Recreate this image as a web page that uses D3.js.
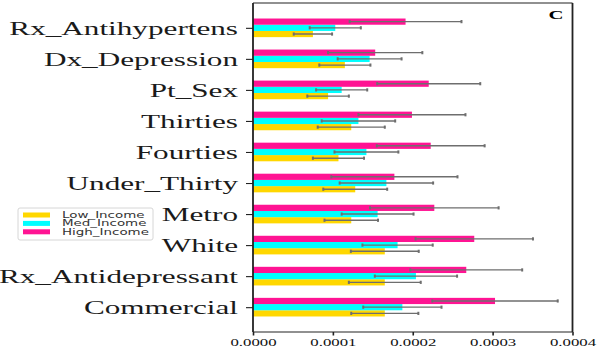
<!DOCTYPE html>
<html lang="en">
<head>
    <meta charset="UTF-8">
    <title>Income groups</title>
    <style>
        body { margin: 0; background: #fff; }
        svg { display: block; }
    </style>
</head>
<body>
<svg></svg>
<script src="https://d3js.org/d3.v7.min.js"></script>
<script>
    // bottom to top, as matplotlib draws them
    var categories = ["Commercial", "Rx_Antidepressant", "White", "Metro", "Under_Thirty",
        "Fourties", "Thirties", "Pt_Sex", "Dx_Depression", "Rx_Antihypertens"];
    var series = ["Low_Income", "Med_Income", "High_Income"];
    var colors = ["#ffd700", "#00ffff", "#ff1493"];

    // values in units of 1e-4
    var lowVals  = [1.65, 1.65, 1.65, 1.23, 1.28, 1.07, 1.23, 0.94, 1.15, 0.75];
    var lowErr   = [0.42, 0.45, 0.425, 0.335, 0.40, 0.32, 0.42, 0.26, 0.32, 0.24];
    var medVals  = [1.87, 2.04, 1.81, 1.56, 1.67, 1.42, 1.32, 1.11, 1.46, 1.03];
    var medErr   = [0.49, 0.515, 0.44, 0.45, 0.585, 0.40, 0.46, 0.32, 0.40, 0.32];
    var highVals = [3.03, 2.67, 2.77, 2.27, 1.77, 2.225, 1.99, 2.20, 1.53, 1.91];
    var highErr  = [0.785, 0.70, 0.735, 0.805, 0.79, 0.675, 0.67, 0.645, 0.59, 0.70];
    var xTicks = [0, 0.0001, 0.0002, 0.0003, 0.0004];

    var width = 598, height = 349;
    var plot = {left: 253, right: 572.5, top: 3, bottom: 332};
    var stretch = 1.6;   // the original picture is widened sideways
    var barH = 0.2;

    var svg = d3.select("svg").attr("width", width).attr("height", height);

    var xScale = d3.scaleLinear().domain([0, 0.0004]).range([plot.left, plot.right]);
    var yScale = d3.scaleLinear().domain([-0.8, 9.8]).range([plot.bottom, plot.top]);
    var unit = Math.abs(yScale(barH) - yScale(0));

    var rows = [];
    var vals = [lowVals, medVals, highVals], errs = [lowErr, medErr, highErr];
    categories.forEach(function (c, i) {
        series.forEach(function (s, j) {
            rows.push({cat: i, s: j, v: vals[j][i] * 1e-4, e: errs[j][i] * 1e-4, off: (j - 1) * barH});
        });
    });

    // bars
    svg.append("g").selectAll("rect")
        .data(rows)
        .enter().append("rect")
        .attr("x", xScale(0))
        .attr("y", function (d) { return yScale(d.cat + d.off) - unit / 2; })
        .attr("width", function (d) { return xScale(d.v) - xScale(0); })
        .attr("height", unit)
        .style("fill", function (d) { return colors[d.s]; });

    // error bars
    var eg = svg.append("g").attr("stroke", "#6e6e6e").attr("stroke-width", 1.4);
    rows.forEach(function (d) {
        var y = yScale(d.cat + d.off);
        var x0 = xScale(d.v - d.e), x1 = xScale(d.v + d.e);
        eg.append("line").attr("x1", x0).attr("x2", x1).attr("y1", y).attr("y2", y);
        [x0, x1].forEach(function (x) {
            eg.append("line").attr("x1", x).attr("x2", x).attr("y1", y - 1.6).attr("y2", y + 1.6)
                .attr("stroke-width", 2);
        });
    });

    // frame
    var frame = svg.append("g").attr("stroke", "#222").attr("fill", "none");
    frame.append("line").attr("x1", plot.left).attr("x2", plot.right).attr("y1", plot.top).attr("y2", plot.top).attr("stroke-width", 1.1);
    frame.append("line").attr("x1", plot.left).attr("x2", plot.right).attr("y1", plot.bottom).attr("y2", plot.bottom).attr("stroke-width", 1.1);
    frame.append("line").attr("x1", plot.left).attr("x2", plot.left).attr("y1", plot.top).attr("y2", plot.bottom).attr("stroke-width", 1.8);
    frame.append("line").attr("x1", plot.right).attr("x2", plot.right).attr("y1", plot.top).attr("y2", plot.bottom).attr("stroke-width", 1.8);

    // x axis
    var xAxis = d3.axisBottom(xScale).tickValues(xTicks).tickSize(3.5).tickSizeOuter(0)
        .tickFormat(d3.format(".4f"));
    var gx = svg.append("g").attr("transform", "translate(0," + plot.bottom + ")").call(xAxis);
    gx.select(".domain").remove();
    gx.selectAll(".tick line").attr("stroke", "#222").attr("stroke-width", 1.6);
    gx.selectAll(".tick text")
        .attr("y", 0).attr("dy", 0)
        .attr("transform", "translate(0,14) scale(" + stretch + ",1)")
        .style("font-family", "'Liberation Serif', 'Times New Roman', serif")
        .style("font-size", "10.5px")
        .style("fill", "#111");

    // y axis
    var yAxis = d3.axisLeft(yScale).tickValues(d3.range(categories.length)).tickSize(7).tickSizeOuter(0)
        .tickFormat(function (i) { return categories[i]; });
    var gy = svg.append("g").attr("transform", "translate(" + plot.left + ",0)").call(yAxis);
    gy.select(".domain").remove();
    gy.selectAll(".tick line").attr("stroke", "#222").attr("stroke-width", 1.1);
    gy.selectAll(".tick text")
        .attr("x", 0).attr("dy", 0)
        .attr("transform", "translate(-15,6.5) scale(" + stretch + ",1)")
        .style("font-family", "'Liberation Serif', 'Times New Roman', serif")
        .style("font-size", "19.5px")
        .style("fill", "#1a1a1a");

    // panel letter
    svg.append("text")
        .attr("transform", "translate(556,18.5) scale(" + stretch + ",1)")
        .style("text-anchor", "middle")
        .style("font-family", "'Liberation Serif', serif")
        .style("font-weight", "bold")
        .style("font-size", "13px")
        .text("C");

    // legend
    var lg = svg.append("g");
    lg.append("rect").attr("x", 18).attr("y", 208).attr("width", 135).attr("height", 32)
        .attr("rx", 2).style("fill", "#fff").style("stroke", "#d6d6d6").style("stroke-width", 1);
    series.forEach(function (s, j) {
        var y = 215 + j * 8.4;
        lg.append("rect").attr("x", 23).attr("y", y - 2.5).attr("width", 27).attr("height", 5)
            .style("fill", colors[j]);
        lg.append("text")
            .attr("transform", "translate(62," + (y + 3) + ") scale(" + stretch + ",1)")
            .style("font-family", "'DejaVu Sans', sans-serif")
            .style("font-size", "8.4px")
            .style("fill", "#333")
            .text(s);
    });
</script>
</body>
</html>
